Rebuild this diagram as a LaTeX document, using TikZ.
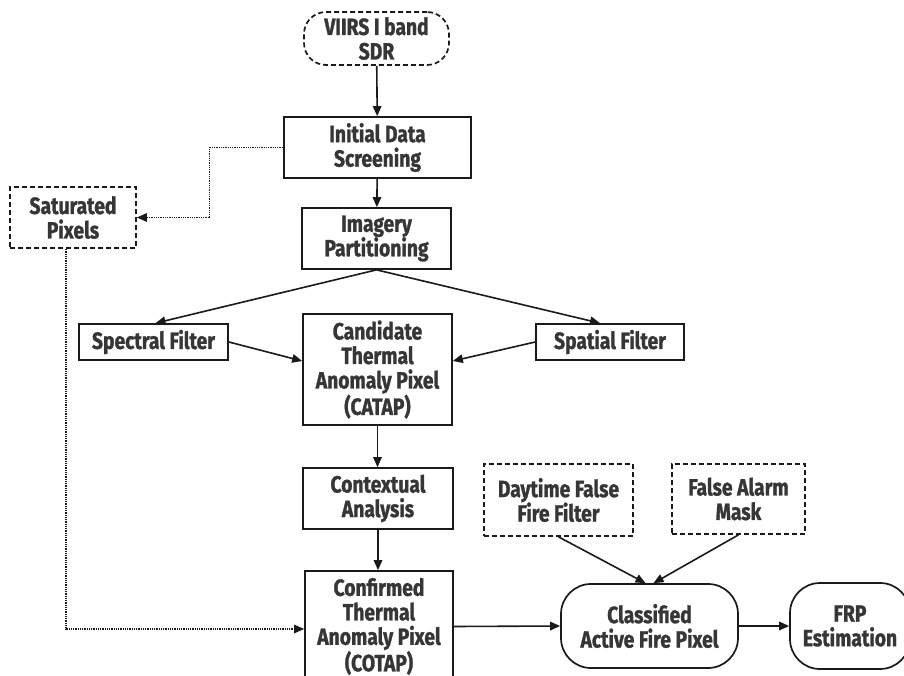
\documentclass[tikz,border=0pt]{standalone}
\usepackage{fontspec}
\setmainfont{Fira Sans}[FakeStretch=0.82, FakeBold=1.2]
\usetikzlibrary{arrows.meta,calc}
\definecolor{txt}{HTML}{363636}
\definecolor{ln}{HTML}{1A1A1A}
\tikzset{
  base/.style={font=\bfseries\fontsize{23.5}{24.5}\selectfont, text=txt, align=center,
    inner sep=0pt, draw=ln, line width=1.7pt},
  dbox/.style={base, dash pattern=on 5pt off 3pt},
  rbox/.style={base, rounded corners=30pt},
  arr/.style={-{Triangle[length=10pt,width=8.5pt]}, line width=1.6pt, draw=ln},
  dotarr/.style={arr, dash pattern=on 1pt off 0.8pt, line width=1.2pt}
}
\begin{document}
\begin{tikzpicture}[x=1pt,y=-1pt]
\fill[white] (0,0) rectangle (904,676);
\clip (0,0) rectangle (904,676);
\node[dbox, rounded corners=22pt, minimum width=145pt, minimum height=53pt] (viirs) at (376.5,38.5) {VIIRS I band\\SDR};
\node[base, minimum width=187pt, minimum height=61pt] (init) at (377.5,147.5) {Initial Data\\Screening};
\node[base, minimum width=149pt, minimum height=61pt] (imag) at (376.5,238.5) {Imagery\\Partitioning};
\node[dbox, minimum width=126pt, minimum height=61pt] (sat) at (73,217.5) {Saturated\\Pixels};
\node[base, minimum width=149pt, minimum height=36pt] (spec) at (153.5,342) {Spectral Filter};
\node[base, minimum width=148pt, minimum height=36pt] (spat) at (610,342) {Spatial Filter};
\node[base, minimum width=149pt, minimum height=111pt] (catap) at (377.5,369.5) {Candidate\\Thermal\\Anomaly Pixel\\(CATAP)};
\node[base, minimum width=150pt, minimum height=61pt] (ctx) at (378,498.5) {Contextual\\Analysis};
\node[base, minimum width=148pt, minimum height=111pt] (cotap) at (379,626.5) {Confirmed\\Thermal\\Anomaly Pixel\\(COTAP)};
\node[dbox, minimum width=149pt, minimum height=72pt] (day) at (558.5,500) {Daytime False\\Fire Filter};
\node[dbox, minimum width=133pt, minimum height=70pt] (fam) at (738.5,499) {False Alarm\\Mask};
\node[rbox, minimum width=177pt, minimum height=84pt] (cls) at (649.5,626) {Classified\\Active Fire Pixel};
\node[rbox, minimum width=120pt, minimum height=86pt] (frp) at (850,626) {FRP\\Estimation};

\draw[arr] (viirs) -- (init);
\draw[arr] (init) -- (imag);
\draw[dotarr] (init.west) -- ++(-74,0) |- (sat.east);
\draw[dotarr] ([xshift=-7pt]sat.south) |- ([yshift=-2.5pt]cotap.west);
\draw[arr] (imag.south) -- ([xshift=2pt]spec.north);
\draw[arr] (imag.south) -- ([xshift=-10pt]spat.north);
\draw[arr] (spec.east) -- ([yshift=8.5pt]catap.west);
\draw[arr] (spat.west) -- ([yshift=8.5pt]catap.east);
\draw[arr] (catap.south) -- (catap.south |- ctx.north);
\draw[arr] (ctx.south) -- (ctx.south |- cotap.north);
\draw[arr] (cotap.east) -- (cls.west);
\draw[arr] (cls) -- (frp);
\draw[arr] (day.south) -- ([xshift=-4pt]cls.north);
\draw[arr] (fam.south) -- ([xshift=4pt]cls.north);
\end{tikzpicture}
\end{document}
